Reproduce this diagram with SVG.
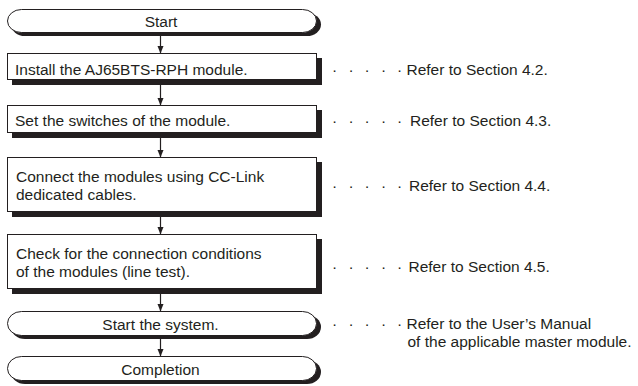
<svg xmlns="http://www.w3.org/2000/svg" width="638" height="386" viewBox="0 0 638 386">
<style>
  .sh { fill: #231f20; }
  .bx { fill: #ffffff; stroke: #231f20; stroke-width: 1; }
  .t { font-family: "Liberation Sans", Arial, sans-serif; font-size: 15.5px; fill: #231f20; }
  .c { text-anchor: middle; }
  .ln { stroke: #231f20; stroke-width: 1.2; fill: none; }
</style>
<defs>
  <marker id="ah" viewBox="0 0 8 8" refX="8" refY="4" markerWidth="8" markerHeight="8" markerUnits="userSpaceOnUse" orient="auto">
    <path d="M0,0.8 L8,4 L0,7.2 Z" fill="#231f20"/>
  </marker>
</defs>
<rect width="638" height="386" fill="#ffffff"/>

<g id="connectors">
  <line class="ln" x1="160.5" y1="36" x2="160.5" y2="53.5" marker-end="url(#ah)"/>
  <line class="ln" x1="160.5" y1="85" x2="160.5" y2="105.5" marker-end="url(#ah)"/>
  <line class="ln" x1="160.5" y1="138" x2="160.5" y2="157.5" marker-end="url(#ah)"/>
  <line class="ln" x1="160.5" y1="217" x2="160.5" y2="234.5" marker-end="url(#ah)"/>
  <line class="ln" x1="160.5" y1="294" x2="160.5" y2="311.5" marker-end="url(#ah)"/>
  <line class="ln" x1="160.5" y1="339" x2="160.5" y2="356.5" marker-end="url(#ah)"/>
</g>

<g id="start">
  <rect class="sh" x="11" y="13" width="310" height="23" rx="14" ry="11.5"/>
  <rect class="bx" x="7.5" y="9.5" width="309" height="23" rx="14" ry="11.5"/>
  <text class="t c" x="161" y="27">Start</text>
</g>

<g id="install">
  <rect class="sh" x="12" y="58" width="310" height="27"/>
  <rect class="bx" x="7.5" y="53.5" width="309" height="26"/>
  <text class="t" x="15" y="75">Install the AJ65BTS-RPH module.</text>
</g>

<g id="switches">
  <rect class="sh" x="12" y="110" width="310" height="28"/>
  <rect class="bx" x="7.5" y="105.5" width="309" height="27"/>
  <text class="t" x="15" y="126">Set the switches of the module.</text>
</g>

<g id="connect">
  <rect class="sh" x="12" y="162" width="310" height="55"/>
  <rect class="bx" x="7.5" y="157.5" width="309" height="54"/>
  <text class="t" x="16" y="182">Connect the modules using CC-Link</text>
  <text class="t" x="16" y="200">dedicated cables.</text>
</g>

<g id="check">
  <rect class="sh" x="12" y="239" width="310" height="55"/>
  <rect class="bx" x="7.5" y="234.5" width="309" height="54"/>
  <text class="t" x="16" y="259">Check for the connection conditions</text>
  <text class="t" x="16" y="277">of the modules (line test).</text>
</g>

<g id="system">
  <rect class="sh" x="11" y="315" width="310" height="24" rx="14" ry="12"/>
  <rect class="bx" x="7.5" y="311.5" width="309" height="24" rx="14" ry="12"/>
  <text class="t c" x="160.5" y="329.5">Start the system.</text>
</g>

<g id="completion">
  <rect class="sh" x="11" y="360" width="310" height="24" rx="14" ry="12"/>
  <rect class="bx" x="7.5" y="356.5" width="309" height="24" rx="14" ry="12"/>
  <text class="t c" x="160.5" y="374.5">Completion</text>
</g>

<g id="notes">
  <text class="t" y="75"><tspan x="332 348.5 364.5 381 397">·····</tspan><tspan x="406.5">Refer to Section 4.2.</tspan></text>
  <text class="t" y="126"><tspan x="332 348.5 364.5 381 397">·····</tspan><tspan x="410">Refer to Section 4.3.</tspan></text>
  <text class="t" y="191"><tspan x="332 348.5 364.5 381 397">·····</tspan><tspan x="409">Refer to Section 4.4.</tspan></text>
  <text class="t" y="272"><tspan x="332 348.5 364.5 381 397">·····</tspan><tspan x="408.5">Refer to Section 4.5.</tspan></text>
  <text class="t" y="329"><tspan x="332 348.5 364.5 381 397">·····</tspan><tspan x="406.5">Refer to the User’s Manual</tspan></text>
  <text class="t" x="407.5" y="347">of the applicable master module.</text>
</g>
</svg>
